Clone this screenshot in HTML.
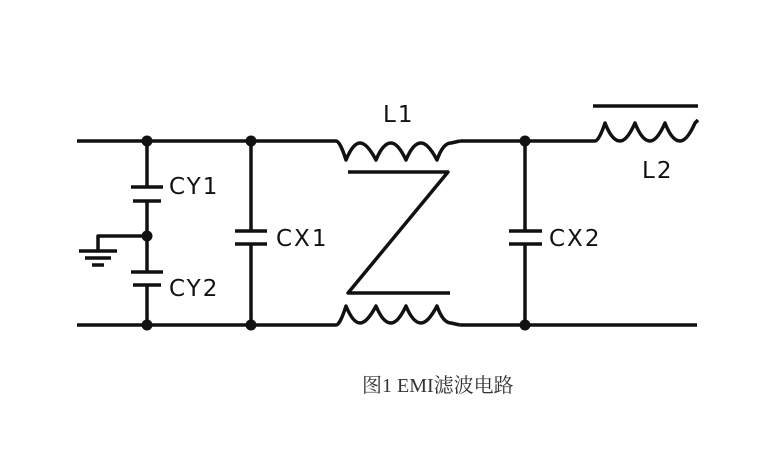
<!DOCTYPE html>
<html><head><meta charset="utf-8"><style>body{margin:0;background:#fff}</style></head><body>
<svg width="782" height="471" xmlns="http://www.w3.org/2000/svg" style="display:block">
<g stroke="#111" stroke-width="3.5" fill="none" stroke-linecap="butt" stroke-linejoin="round">
<path d="M77 141H336M460 141H595"/>
<path d="M77 325H336M460 325H697"/>
<path d="M147 141V187M147 201V272M147 285V325"/>
<path d="M131 187H163M133 201H161M131 272H163M133 285H161"/>
<path d="M147 236H98V250"/>
<path d="M79 251H117M85 258H111M92 265H104"/>
<path d="M251 141V231M251 244V325M235 231H267M235 244H267"/>
<path d="M525 141V231M525 244V325M509 231H542M509 244H542"/>
<path d="M336 141 Q340 141 346 160 Q353 143 360 143 Q367 143 376 160 Q383 143 391 143 Q398 143 406 160 Q413 143 421 143 Q428 143 437 160 Q443 143 451 143 L460 141"/>
<path d="M336 325 Q340 325 346 306 Q353 323 360 323 Q367 323 376 306 Q383 323 391 323 Q398 323 406 306 Q413 323 421 323 Q428 323 437 306 Q443 323 451 323 L460 325"/>
<path d="M348 172H448L348 293H450"/>
<path d="M595 141 Q599 141 605 123 Q612 141 620 141 Q627 141 635 123 Q642 141 650 141 Q657 141 665 123 Q672 141 680 141 Q687 141 695 123 L698 120"/>
<path d="M593 106H698"/>
</g>
<g fill="#111">
<circle cx="147" cy="141" r="5.5"/><circle cx="251" cy="141" r="5.5"/><circle cx="525" cy="141" r="5.5"/>
<circle cx="147" cy="236" r="5.5"/>
<circle cx="147" cy="325" r="5.5"/><circle cx="251" cy="325" r="5.5"/><circle cx="525" cy="325" r="5.5"/>
</g>
<g font-family="DejaVu Sans, sans-serif" font-size="23" fill="#111" letter-spacing="2">
<text x="383" y="122">L1</text>
<text x="169" y="194">CY1</text>
<text x="169" y="296">CY2</text>
<text x="276" y="246">CX1</text>
<text x="549" y="246">CX2</text>
<text x="642" y="178">L2</text>
</g>
<text x="362" y="392" font-family="Liberation Serif, Noto Serif CJK SC, serif" font-size="20" fill="#333">图1 EMI滤波电路</text>
</svg>
</body></html>
